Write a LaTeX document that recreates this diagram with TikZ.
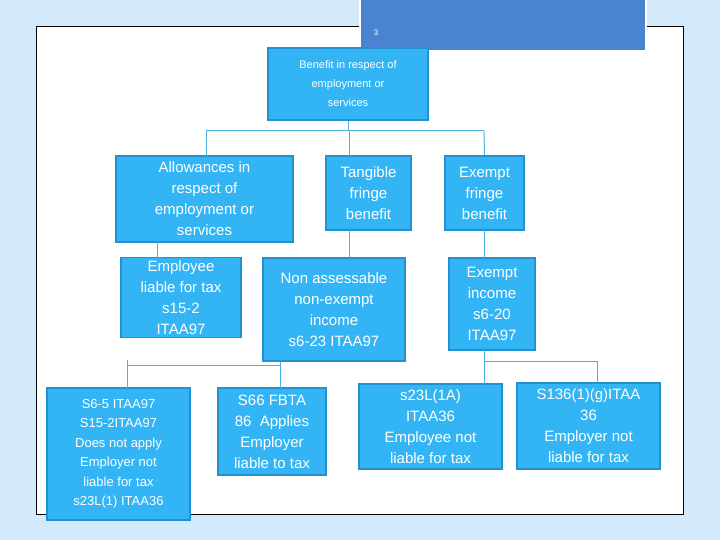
\documentclass[tikz,border=0pt]{standalone}
\usepackage{fontspec}
\setmainfont{Liberation Sans}
\begin{document}
\begin{tikzpicture}[x=1pt,y=-1pt,
  bx/.style={draw=boxb,line width=1.8pt,fill=boxf,text=white,align=center,inner sep=1pt,font=\fontsize{15}{21}\selectfont},
  ln/.style={draw=lnc,line width=1pt}]
\definecolor{bg}{HTML}{D3EAFA}
\definecolor{boxf}{HTML}{33B5F5}
\definecolor{boxb}{HTML}{2390CF}
\definecolor{lnc}{HTML}{4AB0E0}
\definecolor{hdr}{HTML}{4A84D0}
\useasboundingbox (0,0) rectangle (720,540);
\fill[bg] (0,0) rectangle (720,540);
\draw[fill=white,line width=0.8pt] (36,26) rectangle (683,514);
\draw[white,line width=2pt,fill=hdr] (360,-2) rectangle (646,51);
\node[text=white,font=\fontsize{8}{9}\selectfont] (pg) at (376,33) {3};
\node[bx,minimum width=160,minimum height=72,font=\fontsize{11}{19}\selectfont] (root) at (348,84) {Benefit in respect of\\employment or\\services};
\node[bx,minimum width=177,minimum height=86] (all) at (204.5,199) {Allowances in\\respect of\\employment or\\services};
\node[bx,minimum width=85,minimum height=74] (tan) at (368.5,193) {Tangible\\fringe\\benefit};
\node[bx,minimum width=79,minimum height=74] (exf) at (484.5,193) {Exempt\\fringe\\benefit};
\node[bx,minimum width=120,minimum height=80] (emp) at (181,297.5) {Employee\\liable for tax\\s15-2\\ITAA97};
\node[bx,minimum width=142,minimum height=103] (non) at (334,309.5) {Non assessable\\non-exempt\\income\\s6-23 ITAA97};
\node[bx,minimum width=86,minimum height=92] (exi) at (492,304) {Exempt\\income\\s6-20\\ITAA97};
\node[bx,minimum width=143,minimum height=132,font=\fontsize{13}{19.5}\selectfont] (s65) at (118.5,454) {S6-5 ITAA97\\S15-2ITAA97\\Does not apply\\Employer not\\liable for tax\\s23L(1) ITAA36};
\node[bx,minimum width=108,minimum height=87] (s66) at (272,431.5) {S66 FBTA\\86~ Applies\\Employer\\liable to tax};
\node[bx,minimum width=143,minimum height=85] (s23) at (430.5,426.5) {s23L(1A)\\ITAA36\\Employee not\\liable for tax};
\node[bx,minimum width=143,minimum height=86] (s136) at (588.5,426) {S136(1)(g)ITAA\\36\\Employer not\\liable for tax};
\coordinate (j1) at (348,131);
\draw[ln] (root.south) -- (j1);
\draw[ln] (206,131) -- (484,131);
\draw[ln] (206,131) -- (206,156);
\draw[ln] (349,131) -- (349,156);
\draw[ln] (484,131) -- (exf.north);
\draw[ln] (157,242) -- (157,258);
\draw[ln] (349,230) -- (349,258);
\draw[ln] (484,230) -- (484,258);
\draw[ln] (280,361) -- (280,388);
\draw[ln] (127,365) -- (280,365);
\draw[ln] (127,360) -- (127,388);
\draw[ln] (484,350) -- (484,384);
\draw[ln] (484,361) -- (597,361) -- (597,383);
\end{tikzpicture}
\end{document}
